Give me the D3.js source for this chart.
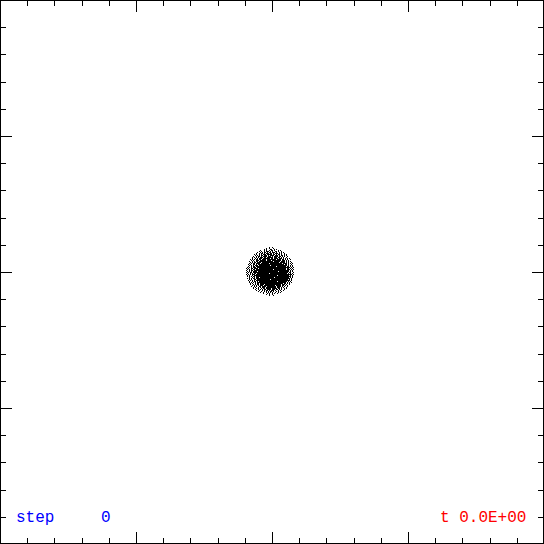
<!DOCTYPE html>
<html>
<head>
<meta charset="utf-8">
<script src="https://cdn.jsdelivr.net/npm/d3@7"></script>
<style>
  html, body { margin: 0; padding: 0; background: #fff; }
  svg { display: block; }
</style>
</head>
<body>
<script>
// ---- data ----
const xDomain = [-2, 2];
const yDomain = [-2, 2];
const majorTickValues = [-2, -1, 0, 1, 2];
const minorTickValues = [-1.8, -1.6, -1.4, -1.2, -0.8, -0.6, -0.4, -0.2,
                         0.2, 0.4, 0.6, 0.8, 1.2, 1.4, 1.6, 1.8];
const stepLabel = "step";
const stepValue = "0";
const timeLabel = "t 0.0E+00";
// particle cloud: centre and pixel-grid occupancy (rows top to bottom)
const cloudCenter = [-0.0147, 0.0074];
const cloudCell = 4 / 544;
const cloudRows = [
  "..#..#.",
  "#..#...#.",
  "..#.#...##..#.#..",
  "#...#.#..#.##.#...#.#",
  ".#.#..#.###.#.#..##.#..#.",
  "#..#.#.##.#.##.###.#..#.#.#",
  ".#..#.##.#.###.##.#.###.#.#..#.",
  "#.#..#.#.###.#####.##.#.##.#..#.#",
  "..#.#.#.##.###.#.####.###.#.##.#.#.",
  ".#..#.##.#.####.###.#.####.##.#.#..#",
  "#.#.#.#.###.##.######.###.##.#.#..#.",
  ".#..#.#.###.#######.##.####.###.#.#.#.#",
  "#.#.#.##.##.####.#########.####.##.#.#..#",
  ".#.#..###.######.####.#########.###.#.#.",
  "#..#.#.##.##############.######.####.#.#.#.",
  ".#.#.##.####.#################.#####.#.#..#",
  ".#.#.##.####.########.############.####.#.#.#",
  "#.#..##.#.##########################.##.#..#.",
  ".#.#.#.###.###########.################.#.#.#",
  "#..#.##.####################.#########.##.#.#",
  ".#.#.#.###.#################################.#.#",
  "#.#..##.####.###########################.##.#.#.",
  ".#.#.#.##.#################.############.###.#.#",
  "#..#.##.###################################.#.#.",
  ".#.#.#.####.####################.##########.#.#.",
  "#.#.##.###################################.##..#",
  ".#..#.#.##.############.#################.#.#.#.",
  "#.#.#.###.####################################.#",
  ".#.#..#.#######################.###########.#.#.",
  "#.#.#.##.###################################.#",
  ".#..#.#.###.##############.##############.#.#",
  "#.#.#.##.##################################.#.",
  ".#.#..##.#############.#################.#.#.",
  "#.#.#.#.##################################.#",
  ".#..#.##.#.##################.#########.#.#.",
  "#.#.#.#.#############################.#.#.#",
  ".#.#..#.##.#######################.##.#.#.",
  "#..#.#.##.####.################.###.#..#.",
  ".#.#.#.#.###.###########.#####.##.#.#.",
  "#..#.#..##.####.#########.####.#.#..#.",
  ".#.#..#.#.###.##########.###.#.#..#.",
  "#..#.#..#.##.#####.#####.##.#..#.#.",
  ".#..#.#.#.##.####.###.##.#.#..#.",
  "#..#..#.#.##.#.###.#..#.#..#",
  ".#..#..#.#.#.##.#..#.#..#.",
  "#..#..#.#.#.#..#..#.#",
  ".#...#.#..#.#..#.",
  "#..#..#..",
  "..#...#"
];

// ---- drawing ----
const W = 544, H = 544;
const x = d3.scaleLinear().domain(xDomain).range([0, W]);
const y = d3.scaleLinear().domain(yDomain).range([H, 0]);

const svg = d3.select("body").append("svg")
  .attr("width", W).attr("height", H)
  .attr("viewBox", `0 0 ${W} ${H}`);

svg.append("rect").attr("width", W).attr("height", H).attr("fill", "#fff");

// particles
const half = (cloudRows.length - 1) / 2;
const pts = [];
cloudRows.forEach((row, r) => {
  const rh = (row.length - 1) / 2;
  for (let i = 0; i < row.length; i++) {
    if (row[i] === "#") {
      pts.push([cloudCenter[0] + Math.floor(i - rh) * cloudCell,
                cloudCenter[1] - (r - half) * cloudCell]);
    }
  }
});
svg.append("g").selectAll("rect").data(pts).join("rect")
  .attr("x", d => Math.round(x(d[0])))
  .attr("y", d => Math.round(y(d[1])))
  .attr("width", 1).attr("height", 1)
  .attr("fill", "#000")
  .attr("shape-rendering", "crispEdges");

// frame
svg.append("rect")
  .attr("x", 0.5).attr("y", 0.5)
  .attr("width", W - 1).attr("height", H - 1)
  .attr("fill", "none").attr("stroke", "#000").attr("stroke-width", 1)
  .attr("shape-rendering", "crispEdges");

function addAxis(axisGen, transform, values, size) {
  const g = svg.append("g").attr("transform", transform)
    .call(axisGen.tickValues(values).tickSize(-size).tickFormat(""));
  g.select(".domain").remove();
  g.selectAll("line").attr("stroke", "#000").attr("stroke-width", 1)
    .attr("shape-rendering", "crispEdges");
}
[[minorTickValues, 6], [majorTickValues, 12]].forEach(([vals, size]) => {
  addAxis(d3.axisTop(x), "translate(0,0)", vals, size);
  addAxis(d3.axisBottom(x), `translate(0,${H})`, vals, size);
  addAxis(d3.axisLeft(y), "translate(0,0)", vals, size);
  addAxis(d3.axisRight(y), `translate(${W},0)`, vals, size);
});

// labels
const font = "'Liberation Mono', 'DejaVu Sans Mono', monospace";
svg.append("text").attr("x", 16).attr("y", 522)
  .attr("font-family", font).attr("font-size", 16).attr("fill", "#0000ff")
  .text(stepLabel);
svg.append("text").attr("x", 101).attr("y", 522)
  .attr("font-family", font).attr("font-size", 16).attr("fill", "#0000ff")
  .text(stepValue);
svg.append("text").attr("x", 440).attr("y", 522)
  .attr("font-family", font).attr("font-size", 16).attr("fill", "#ff0000")
  .attr("xml:space", "preserve")
  .text(timeLabel);
</script>
</body>
</html>
